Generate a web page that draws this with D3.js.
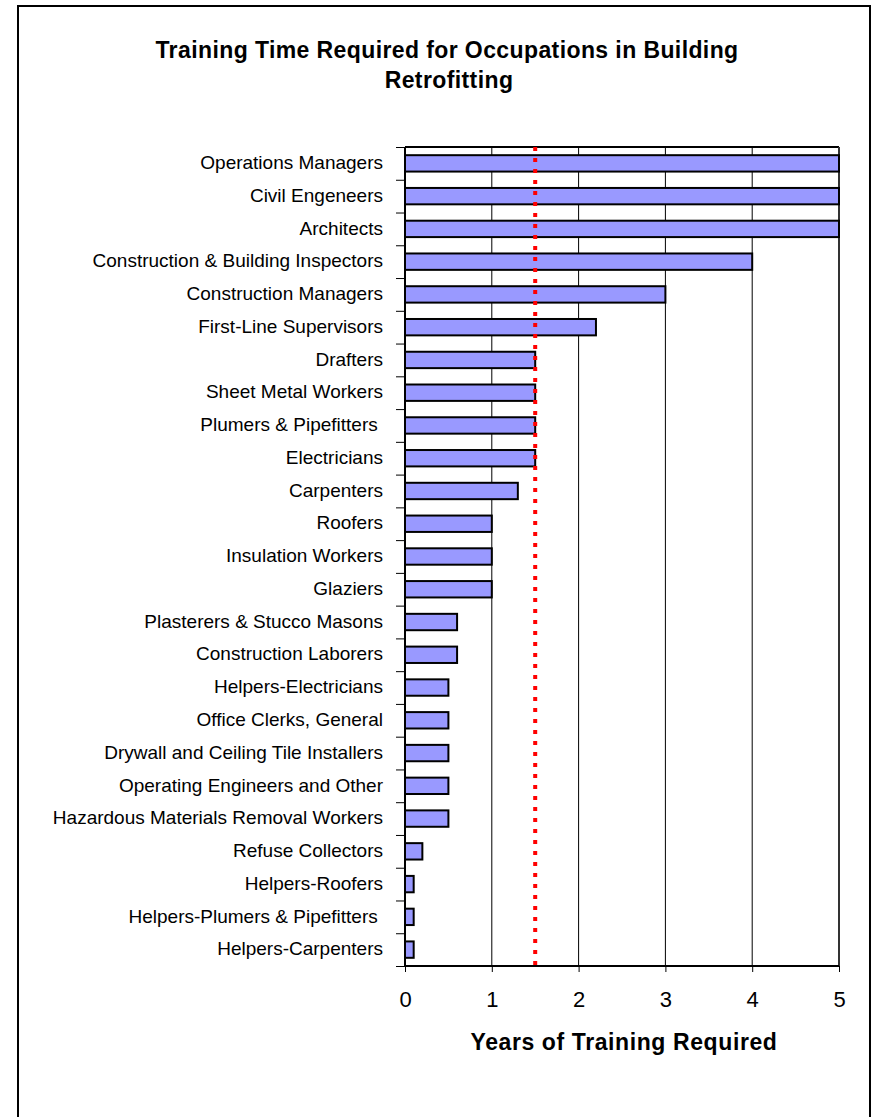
<!DOCTYPE html>
<html lang="en">
<head>
<meta charset="utf-8">
<title>Training Time Required for Occupations in Building Retrofitting</title>
<script src="https://d3js.org/d3.v7.min.js"></script>
<style>
  body { margin: 0; background: #fff; }
  text { font-family: 'Liberation Sans', Arial, sans-serif; fill: #000; }
</style>
</head>
<body>
<script>
// occupations, top to bottom
var occupations = [
  "Operations Managers",
  "Civil Engeneers",
  "Architects",
  "Construction & Building Inspectors",
  "Construction Managers",
  "First-Line Supervisors",
  "Drafters",
  "Sheet Metal Workers",
  "Plumers & Pipefitters\u00a0",
  "Electricians",
  "Carpenters",
  "Roofers",
  "Insulation Workers",
  "Glaziers",
  "Plasterers & Stucco Masons",
  "Construction Laborers",
  "Helpers-Electricians",
  "Office Clerks, General",
  "Drywall and Ceiling Tile Installers",
  "Operating Engineers and Other",
  "Hazardous Materials Removal Workers",
  "Refuse Collectors",
  "Helpers-Roofers",
  "Helpers-Plumers & Pipefitters\u00a0",
  "Helpers-Carpenters"
];

// years of training
var years = [5, 5, 5, 4, 3, 2.2, 1.5, 1.5, 1.5, 1.5, 1.3, 1, 1, 1, 0.6, 0.6,
             0.5, 0.5, 0.5, 0.5, 0.5, 0.2, 0.1, 0.1, 0.1];

var xTicks = [0, 1, 2, 3, 4, 5];
var referenceYears = 1.5;   // red dotted line

var w = 877, h = 1117;
var plotLeft = 405, plotRight = 839, plotTop = 147, plotBottom = 966;

var svg = d3.select("body").append("svg")
  .attr("width", w)
  .attr("height", h);

// outer chart border
svg.append("rect")
  .attr("x", 18).attr("y", 6)
  .attr("width", 852).attr("height", h + 10)
  .attr("fill", "none")
  .attr("stroke", "#000")
  .attr("stroke-width", 2);

// title
var title = svg.append("text")
  .attr("text-anchor", "middle")
  .attr("font-size", "23px")
  .attr("font-weight", "bold")
  .attr("letter-spacing", "0.4px");
title.append("tspan").attr("x", 447).attr("y", 58)
  .text("Training Time Required for Occupations in Building");
title.append("tspan").attr("x", 449).attr("y", 88)
  .text("Retrofitting");

var x = d3.scaleLinear().domain([0, 5]).range([plotLeft, plotRight]);
var y = d3.scaleBand().domain(occupations).range([plotTop, plotBottom])
  .paddingInner(0.5).paddingOuter(0.25);

// gridlines
svg.append("g").selectAll("line")
  .data(xTicks.slice(1))
  .enter().append("line")
  .attr("x1", function(d) { return x(d); })
  .attr("x2", function(d) { return x(d); })
  .attr("y1", plotTop).attr("y2", plotBottom)
  .attr("stroke", "#000")
  .attr("stroke-width", 1);

// plot area top and right edges
svg.append("line")
  .attr("x1", plotLeft).attr("x2", plotRight)
  .attr("y1", plotTop).attr("y2", plotTop)
  .attr("stroke", "#000").attr("stroke-width", 2);
svg.append("line")
  .attr("x1", plotRight).attr("x2", plotRight)
  .attr("y1", plotTop).attr("y2", plotBottom)
  .attr("stroke", "#333").attr("stroke-width", 2);

// bars
svg.append("g").selectAll("rect")
  .data(years)
  .enter().append("rect")
  .attr("x", x(0))
  .attr("y", function(d, i) { return y(occupations[i]); })
  .attr("width", function(d) { return x(d) - x(0); })
  .attr("height", y.bandwidth())
  .attr("fill", "#9999ff")
  .attr("stroke", "#000")
  .attr("stroke-width", 2);

// reference line
svg.append("line")
  .attr("x1", x(referenceYears)).attr("x2", x(referenceYears))
  .attr("y1", plotTop).attr("y2", plotBottom)
  .attr("stroke", "#ff0000")
  .attr("stroke-width", 4)
  .attr("stroke-dasharray", "4,7");

// left axis: labels
var yAxis = svg.append("g")
  .attr("transform", "translate(" + plotLeft + ",0)")
  .call(d3.axisLeft(y).tickSize(0).tickPadding(22));
yAxis.select(".domain").remove();
yAxis.selectAll("text")
  .attr("font-size", "19px")
  .attr("dy", "0.3em")
  .attr("font-family", "'Liberation Sans', Arial, sans-serif")
  .attr("fill", "#000");

// left axis: ticks between categories
var yEdges = d3.scaleLinear().domain([0, occupations.length]).range([plotTop, plotBottom]);
var yTickAxis = svg.append("g")
  .attr("transform", "translate(" + plotLeft + ",0)")
  .call(d3.axisLeft(yEdges).ticks(occupations.length).tickSize(9).tickFormat(""));
yTickAxis.select(".domain")
  .attr("stroke", "#000").attr("stroke-width", 2)
  .attr("d", "M0," + plotTop + "V" + plotBottom);
yTickAxis.selectAll(".tick line").attr("stroke", "#000").attr("stroke-width", 1);

// bottom axis
var xAxis = svg.append("g")
  .attr("transform", "translate(0," + plotBottom + ")")
  .call(d3.axisBottom(x).tickValues(xTicks).tickSize(6).tickPadding(19)
    .tickFormat(d3.format("d")));
xAxis.select(".domain")
  .attr("stroke", "#000").attr("stroke-width", 2)
  .attr("d", "M" + plotLeft + ",0H" + plotRight);
xAxis.selectAll(".tick line").attr("stroke", "#000");
xAxis.selectAll("text")
  .attr("font-size", "22px")
  .attr("font-family", "'Liberation Sans', Arial, sans-serif")
  .attr("fill", "#000");

// x axis title
svg.append("text")
  .attr("x", 624).attr("y", 1050)
  .attr("text-anchor", "middle")
  .attr("font-size", "23px")
  .attr("font-weight", "bold")
  .attr("letter-spacing", "0.6px")
  .text("Years of Training Required");
</script>
</body>
</html>
